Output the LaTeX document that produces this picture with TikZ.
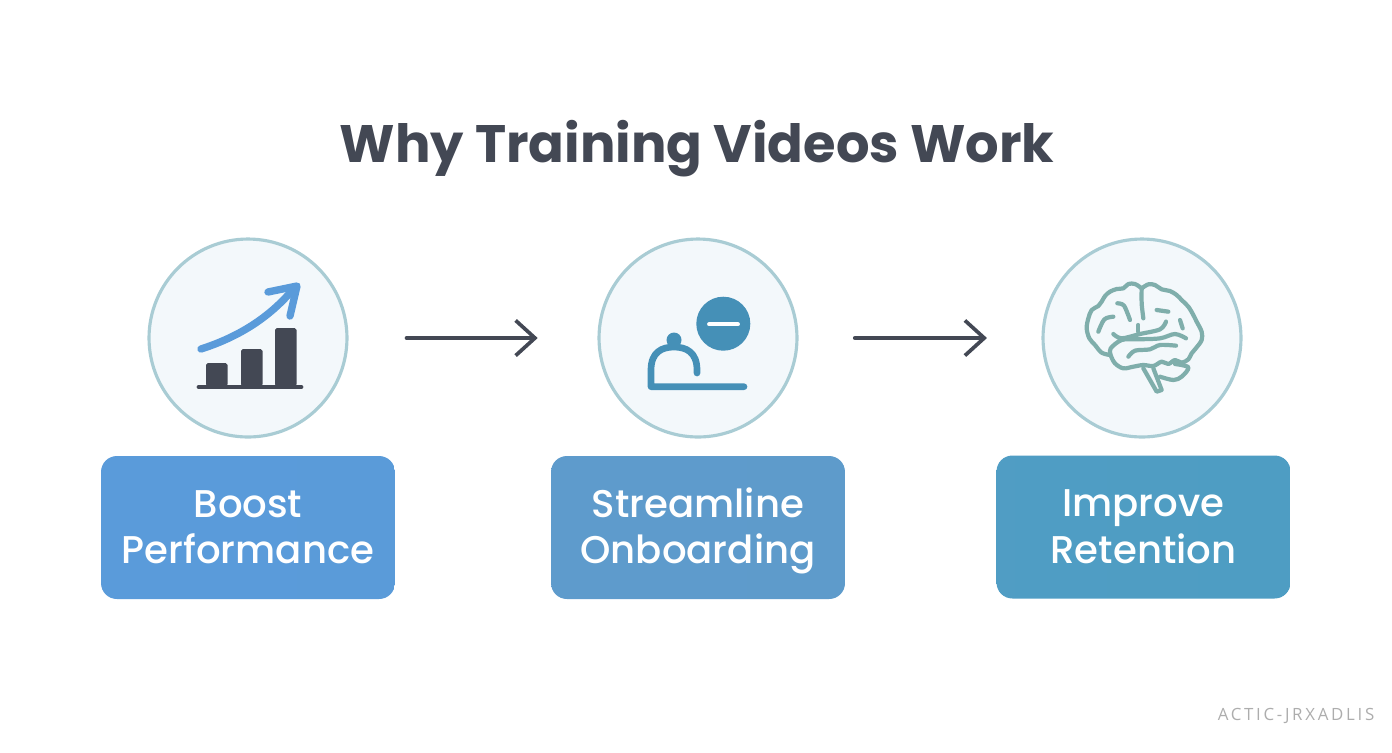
\documentclass[tikz,border=0pt]{standalone}
\usepackage{fontspec}
\setmainfont{Poppins}
\newfontfamily\labelfont{Poppins Medium}
\newfontfamily\markfont[LetterSpace=16]{Open Sans}
\usetikzlibrary{arrows.meta}
\definecolor{inkdark}{HTML}{434854}
\definecolor{ringline}{HTML}{A9CCD4}
\definecolor{ringfill}{HTML}{F3F8FB}
\definecolor{skyblue}{HTML}{5A9BDA}
\definecolor{midblue}{HTML}{5E9BCB}
\definecolor{tealblue}{HTML}{4E9DC3}
\definecolor{bellblue}{HTML}{4590B7}
\definecolor{brainline}{HTML}{7FAEAB}
\newcommand{\twolines}[2]{\rule{0pt}{20.8pt}#1\\#2\rule[-6pt]{0pt}{6pt}}
\tikzset{
    ring/.style={circle,draw=ringline,fill=ringfill,line width=1.8pt,minimum size=3.96cm},
    label/.style={rounded corners=9pt,minimum width=5.88cm,minimum height=2.86cm,text=white,
        align=center,font=\fontsize{22}{26.6}\selectfont\labelfont},
    flow/.style={-{Straight Barb[length=11pt,width=20pt,line width=2.1pt]},draw=inkdark,line width=2.1pt},
}
\begin{document}
\begin{tikzpicture}[x=0.02cm,y=-0.02cm,line join=round,line cap=round]
    \useasboundingbox (0,0) rectangle (1392,752);
    \node (title) at (697,149) [text=inkdark,font=\fontsize{30}{36}\selectfont\bfseries]{Why Training Videos Work};
    \node[ring] (perf) at (248,338) {};
    \node[ring] (onboard) at (698,338) {};
    \node[ring] (brain) at (1142,338) {};
    \node[label,left color=skyblue,right color=skyblue!95!midblue] (boost) at (248,527.5) {\twolines{Boost}{Performance}};
    \node[label,left color=midblue!90!skyblue,right color=midblue] (stream) at (698,527.5) {\twolines{Streamline}{Onboarding}};
    \node[label,left color=tealblue!90!midblue,right color=tealblue] (improve) at (1143.5,527) {\twolines{Improve}{Retention}};
    \draw[flow,shorten <=33pt,shorten >=34pt] (perf) -- (onboard);
    \draw[flow,shorten <=32pt,shorten >=31pt] (onboard) -- (brain);
    % bar chart
    \foreach \a/\b in {206/363,241/349,275/328}{
        \fill[inkdark,rounded corners=1pt] (\a,386) rectangle (\a+21.5,\b);
    }
    \draw[inkdark,line width=2.8pt] (199,387) -- (301,387);
    \draw[skyblue,line width=4.2pt] (201,349) .. controls (235,338) and (268,320) .. (295,287);
    \draw[skyblue,line width=4.2pt] (268,292) -- (297,286) -- (290,316);
    % bell
    \fill[bellblue] (723.3,323.7) circle (27);
    \draw[white,line width=2.2pt] (709,324.3) -- (738,324.3);
    \fill[bellblue] (674,340) circle (7.5);
    \draw[bellblue,line width=3.8pt] (744,386.7) -- (651,386.7) -- (651,370)
        .. controls (651,352) and (662,347) .. (674,347) .. controls (686,347) and (697,352) .. (697,370) -- (697,373);
    % brain
    \begin{scope}[shift={(1060,260)},x=0.00667cm,y=-0.00667cm,draw=brainline,line width=2.4pt]
        \draw plot[smooth,tension=0.55] coordinates {(245,85) (225,72) (205,72) (190,85) (170,87) (150,95) (135,108)
            (125,125) (115,138) (95,150) (85,175) (80,205) (88,235) (105,255) (125,278) (150,285)};
        \draw plot[smooth,tension=0.55] coordinates {(245,85) (265,73) (285,75) (305,88) (330,93) (350,105) (365,120)
            (385,140) (400,165) (410,185) (425,215) (425,240) (410,262) (395,280) (385,298) (365,308) (345,300) (325,312)
            (305,305) (280,318) (250,315) (220,320) (190,325) (165,310) (152,285) (152,265) (185,240)
            (230,238) (300,235) (345,222) (378,235)};
        \draw plot[smooth,tension=0.55] coordinates {(160,222) (185,235) (240,222) (300,208) (318,185)};
        \draw plot[smooth,tension=0.55] coordinates {(205,290) (225,272) (270,268) (300,255) (348,257)};
        \draw plot[smooth,tension=0.55] coordinates {(245,85) (245,130) (250,175)};
        \draw (235,195) -- (235,215);
        \draw (290,150) -- (325,155);
        \draw (360,180) -- (368,205);
        \draw plot[smooth,tension=0.55] coordinates {(172,130) (192,137) (210,180)};
        \draw plot[smooth,tension=0.55] coordinates {(160,170) (133,178) (115,215)};
        \draw plot[smooth,tension=0.55] coordinates {(345,312) (385,322) (365,350) (340,360) (300,350)};
        \draw (250,325) -- (290,395) -- (305,390) -- (280,325);
    \end{scope}
    \node (mark) at (1296,716) [text=black!32,font=\fontsize{9.6}{11}\markfont]{ACTIC-JRXADLIS};
\end{tikzpicture}
\end{document}
